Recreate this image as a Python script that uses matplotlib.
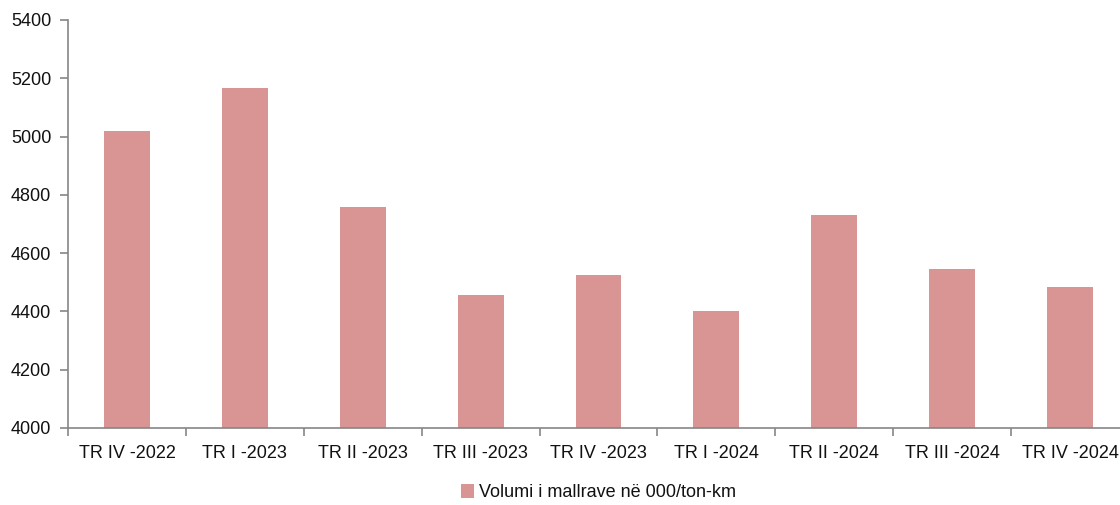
import matplotlib
matplotlib.use("Agg")
import matplotlib.pyplot as plt
import numpy as np

categories = ["TR IV -2022", "TR I -2023", "TR II -2023", "TR III -2023", "TR IV -2023",
              "TR I -2024", "TR II -2024", "TR III -2024", "TR IV -2024"]
values = [5020, 5165, 4760, 4457, 4526, 4402, 4731, 4546, 4484]
series_name = "Volumi i mallrave në 000/ton-km"
y_ticks = [4000, 4200, 4400, 4600, 4800, 5000, 5200, 5400]

plt.rcParams['font.family'] = ['Liberation Sans', 'DejaVu Sans']

fig = plt.figure(figsize=(11.2, 5.05), dpi=100)
ax = fig.add_axes([68/1120, 1-428/505, (1129-68)/1120, (428-20)/505])

x = np.arange(len(categories))
ax.bar(x, values, width=0.39, color="#D99594", label=series_name, zorder=2)

ax.set_xlim(-0.5, len(categories) - 0.5)
ax.set_ylim(4000, 5400)
ax.set_yticks(y_ticks)
ax.set_yticklabels([str(v) for v in y_ticks], fontsize=13, color="#111111")

ax.set_xticks(x)
ax.set_xticklabels(categories, fontsize=13, color="#111111")
ax.tick_params(axis='x', which='major', length=0, pad=12)
ax.set_xticks(np.arange(-0.5, len(categories), 1.0), minor=True)
ax.tick_params(axis='x', which='minor', length=6, color="#868686", width=1.2, direction='out')
ax.tick_params(axis='y', length=6, color="#868686", width=1.2, direction='out', pad=6)

for s in ['top', 'right']:
    ax.spines[s].set_visible(False)
for s in ['left', 'bottom']:
    ax.spines[s].set_color("#868686")
    ax.spines[s].set_linewidth(1.2)
ax.spines['bottom'].set_zorder(3)

leg = ax.legend(loc='center', bbox_to_anchor=(0.5, -0.159), frameon=False,
                fontsize=13, handlelength=0.75, handleheight=0.75, handletextpad=0.3,
                borderpad=0, borderaxespad=0)
for t in leg.get_texts():
    t.set_color("#111111")

fig.savefig("out.png", dpi=100)
